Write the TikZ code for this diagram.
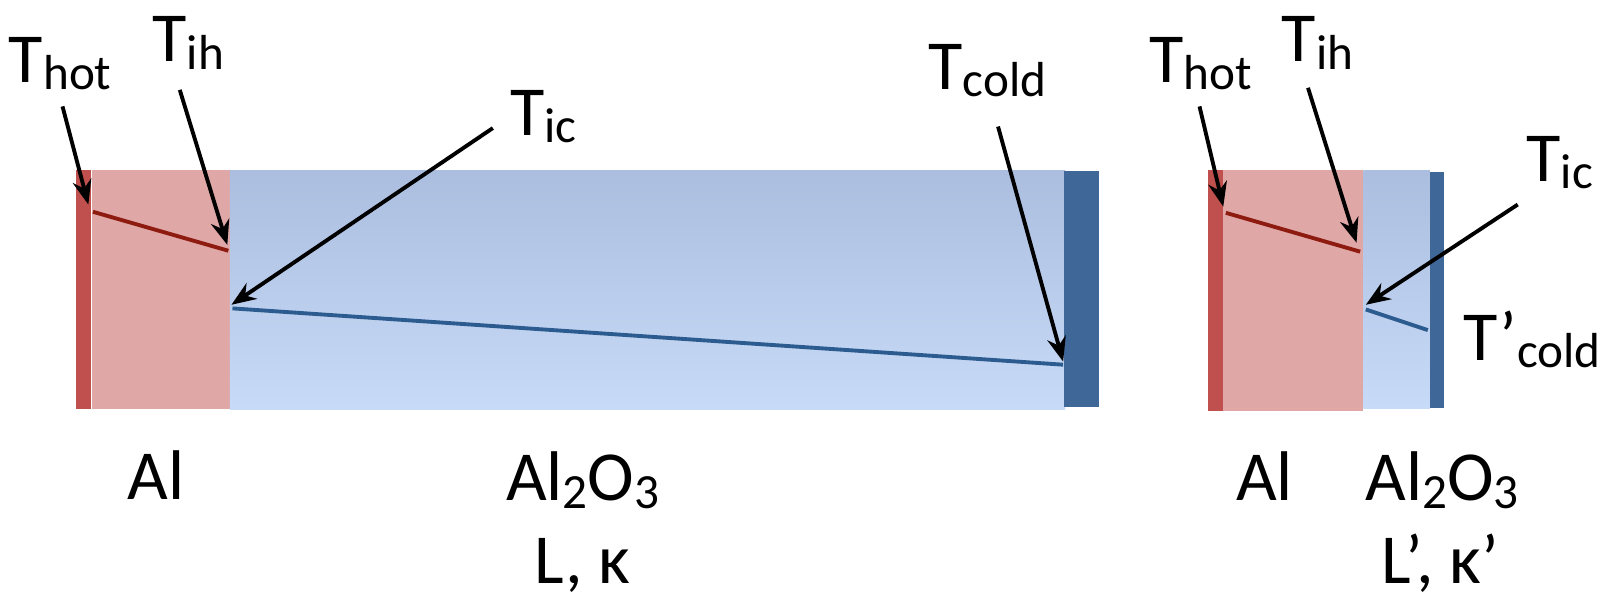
\documentclass[tikz,border=0pt]{standalone}
\usepackage{fontspec}
\setmainfont{Carlito}
\usetikzlibrary{arrows.meta}
\definecolor{hotbar}{HTML}{C0504D}
\definecolor{alfill}{HTML}{E0A7A7}
\definecolor{oxtop}{HTML}{ACBEDF}
\definecolor{oxbot}{HTML}{C7DAF7}
\definecolor{coldbar}{HTML}{3F6899}
\definecolor{hotline}{HTML}{8E1B10}
\definecolor{coldline}{HTML}{2C5B8F}
\newcommand{\tsub}[2]{#1\raisebox{-2pt}{\fontsize{14}{16}\selectfont #2}}
\newcommand{\chemsub}[1]{\raisebox{-2.4pt}{\fontsize{14}{16}\selectfont #1}}
\tikzset{
>={Stealth[length=7pt,width=5.4pt]}, % arrow heads of the pointers
lab/.style={font=\fontsize{20}{24}\selectfont, inner sep=0pt, anchor=base west}, % temperature labels
mat/.style={font=\fontsize{20}{24}\selectfont, inner sep=0pt, anchor=base, align=center}, % material labels
pointer/.style={->, line width=1.1pt, black}, % arrows from labels
profile/.style={line width=1.1pt}, % temperature profile lines
oxide/.style={top color=oxtop, bottom color=oxbot}, % Al2O3 slab
}

\begin{document}
\begin{tikzpicture}[x=0.10332mm, y=-0.10332mm]
\useasboundingbox (0,0) rectangle (1568,592);
% left stack
\fill[hotbar] (73.5,164.6) rectangle (87.7,396);
\fill[alfill] (89,164.6) rectangle (222.5,396);
\shade[oxide] (222.5,164.6) rectangle (1031,396);
\fill[coldbar] (1030,166) rectangle (1063.5,394);
\draw[hotline, profile] (90,205) -- (221,242.7);
\draw[coldline, profile] (225,298.5) -- (1029,353);
% right stack
\fill[hotbar] (1169.5,164.6) rectangle (1184,397.5);
\fill[alfill] (1184,164.6) rectangle (1319.5,397.5);
\shade[oxide] (1319.5,164.6) rectangle (1384,395);
\fill[coldbar] (1384,166.8) rectangle (1398,395);
\draw[hotline, profile] (1186.5,206) -- (1316.5,243.6);
\draw[coldline, profile] (1322,299.5) -- (1382,319.5);

% temperature labels
\node[lab] (thot) at (8,80) {\tsub{T}{hot}};
\node[lab] (tih) at (147,60) {\tsub{T}{ih}};
\node[lab] (tic) at (493,131) {\tsub{T}{ic}};
\node[lab] (tcold) at (898,87) {\tsub{T}{cold}};
\node[lab] (thotr) at (1112,80) {\tsub{T}{hot}};
\node[lab] (tihr) at (1240,60) {\tsub{T}{ih}};
\node[lab] (ticr) at (1477,176) {\tsub{T}{ic}};
\node[lab] (tcoldr) at (1416,349) {\tsub{T’}{cold}};

% arrow ends
\coordinate (thot-t) at (60.5,103);   \coordinate (thot-h) at (85.5,198);
\coordinate (tih-t) at (174,87);      \coordinate (tih-h) at (220,237);
\coordinate (tic-t) at (477,124);     \coordinate (tic-h) at (224,295);
\coordinate (tcold-t) at (966,122.5); \coordinate (tcold-h) at (1029,350);
\coordinate (thotr-t) at (1161,103);  \coordinate (thotr-h) at (1184,200);
\coordinate (tihr-t) at (1266,85);    \coordinate (tihr-h) at (1313,235);
\coordinate (ticr-t) at (1469,198);   \coordinate (ticr-h) at (1322,295);
\draw[pointer] (thot-t) -- (thot-h);
\draw[pointer] (tih-t) -- (tih-h);
\draw[pointer] (tic-t) -- (tic-h);
\draw[pointer] (tcold-t) -- (tcold-h);
\draw[pointer] (thotr-t) -- (thotr-h);
\draw[pointer] (tihr-t) -- (tihr-h);
\draw[pointer] (ticr-t) -- (ticr-h);

% material labels
\node[mat] (al) at (151,483) {Al};
\node[mat] (ox) at (564,484) {Al\chemsub{2}O\chemsub{3}};
\node[mat] (oxp) at (564,564.6) {L, κ};
\node[mat] (alr) at (1224,484) {Al};
\node[mat] (oxr) at (1396,484) {Al\chemsub{2}O\chemsub{3}};
\node[mat] (oxpr) at (1394,564.6) {L’, κ’};
\end{tikzpicture}
\end{document}
